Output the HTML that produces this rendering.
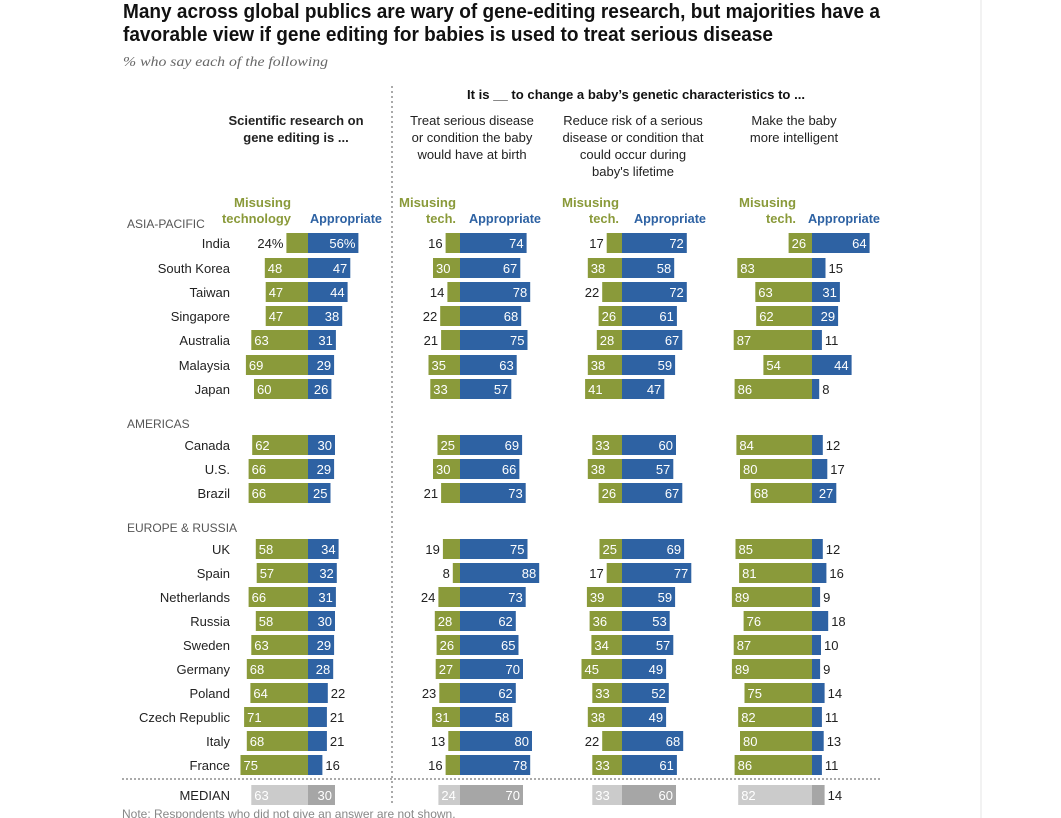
<!DOCTYPE html>
<html><head><meta charset="utf-8">
<style>
html,body{margin:0;padding:0;background:#fff;}
svg{display:block;font-family:"Liberation Sans Narrow","Liberation Sans",sans-serif;}
</style></head>
<body>
<svg id="chart" width="1061" height="818" viewBox="0 0 1061 818">
<line x1="981" y1="0" x2="981" y2="818" stroke="#e4e4e4"/>
<text x="123" y="18" font-size="20" font-weight="bold" fill="#111" textLength="757" lengthAdjust="spacingAndGlyphs">Many across global publics are wary of gene-editing research, but majorities have a</text>
<text x="123" y="41" font-size="20" font-weight="bold" fill="#111" textLength="650" lengthAdjust="spacingAndGlyphs">favorable view if gene editing for babies is used to treat serious disease</text>
<text x="123" y="66" font-size="14" font-style="italic" fill="#666" font-family="Liberation Serif,serif" textLength="205" lengthAdjust="spacingAndGlyphs">% who say each of the following</text>
<text x="636" y="99" font-size="13" font-weight="bold" fill="#111" text-anchor="middle" textLength="338" lengthAdjust="spacingAndGlyphs">It is __ to change a baby’s genetic characteristics to ...</text>
<g font-size="13" fill="#222" text-anchor="middle">
<text x="296" y="125" font-weight="bold"><tspan x="296">Scientific research on</tspan><tspan x="296" dy="17">gene editing is ...</tspan></text>
<text x="472" y="125"><tspan x="472">Treat serious disease</tspan><tspan x="472" dy="17">or condition the baby</tspan><tspan x="472" dy="17">would have at birth</tspan></text>
<text x="633" y="125"><tspan x="633">Reduce risk of a serious</tspan><tspan x="633" dy="17">disease or condition that</tspan><tspan x="633" dy="17">could occur during</tspan><tspan x="633" dy="17">baby's lifetime</tspan></text>
<text x="794" y="125"><tspan x="794">Make the baby</tspan><tspan x="794" dy="17">more intelligent</tspan></text>
</g>
<line x1="392" y1="86" x2="392" y2="806" stroke="#555" stroke-dasharray="2,3"/>
<line x1="122" y1="779" x2="880" y2="779" stroke="#555" stroke-dasharray="2,2"/>
<text x="122" y="818" font-size="12" fill="#888">Note: Respondents who did not give an answer are not shown.</text>
<g id="marks"></g>
</svg>
<script>
const countries = ["India","South Korea","Taiwan","Singapore","Australia","Malaysia","Japan","Canada","U.S.","Brazil","UK","Spain","Netherlands","Russia","Sweden","Germany","Poland","Czech Republic","Italy","France"];
const rowY = [243,268,292,316,340,365,389,445,469,493,549,573,597,621,645,669,693,717,741,765];
const misuseResearch = [24,48,47,47,63,69,60,62,66,66,58,57,66,58,63,68,64,71,68,75];
const approveResearch = [56,47,44,38,31,29,26,30,29,25,34,32,31,30,29,28,22,21,21,16];
const misuseTreat = [16,30,14,22,21,35,33,25,30,21,19,8,24,28,26,27,23,31,13,16];
const approveTreat = [74,67,78,68,75,63,57,69,66,73,75,88,73,62,65,70,62,58,80,78];
const misuseReduce = [17,38,22,26,28,38,41,33,38,26,25,17,39,36,34,45,33,38,22,33];
const approveReduce = [72,58,72,61,67,59,47,60,57,67,69,77,59,53,57,49,52,49,68,61];
const misuseSmart = [26,83,63,62,87,54,86,84,80,68,85,81,89,76,87,89,75,82,80,86];
const approveSmart = [64,15,31,29,11,44,8,12,17,27,12,16,9,18,10,9,14,11,13,11];
const medianMisuse = [63,24,33,82];
const medianApprove = [30,70,60,14];
const groups = [["ASIA-PACIFIC",223],["AMERICAS",423],["EUROPE & RUSSIA",527]];
const colCenters = [308,460,622,812];
const scale = 0.9;
const x = (c,v)=>colCenters[c]+v*scale;
const NS="http://www.w3.org/2000/svg";
const g=document.getElementById('marks');
function mk(t,a,txt){const e=document.createElementNS(NS,t);for(const k in a)e.setAttribute(k,a[k]);if(txt!==undefined)e.textContent=txt;g.appendChild(e);return e;}
groups.forEach(gr=>{
  const e=mk('text',{x:127,y:gr[1]+5,'font-size':12,fill:'#555'},gr[0]);
  
  
});
countries.forEach((c,i)=>{
  const e=mk('text',{x:230,y:rowY[i]+5,'font-size':13,fill:'#222','text-anchor':'end'},c);
  
  
});
const medLbl=mk('text',{x:230,y:800,'font-size':13,fill:'#222','text-anchor':'end'},'MEDIAN');


// legends: [misuse right edge, appropriate left, second line text, second line width]
[[291,310,"technology",69],[456,469,"tech.",30],[619,634,"tech.",30],[796,808,"tech.",30]].forEach(([mr,al,w,ww])=>{
  const a=mk('text',{x:mr,y:207,'font-size':13,'font-weight':'bold',fill:'#8a9a3a','text-anchor':'end',textLength:57,lengthAdjust:'spacingAndGlyphs'},'Misusing');
  
  
  const b=mk('text',{x:mr,y:223,'font-size':13,'font-weight':'bold',fill:'#8a9a3a','text-anchor':'end',textLength:ww,lengthAdjust:'spacingAndGlyphs'},w);
  
  
  const d=mk('text',{x:al,y:223,'font-size':13,'font-weight':'bold',fill:'#2e62a3',textLength:72,lengthAdjust:'spacingAndGlyphs'},'Appropriate');
  
  
});
const series=[[misuseResearch,approveResearch],[misuseTreat,approveTreat],[misuseReduce,approveReduce],[misuseSmart,approveSmart]];
function drawPair(c,y,m,a,gc,bc,pct,tc,med){
  const cx=colCenters[c];
  const r1=mk('rect',{x:x(c,-m),y:y-10,width:cx-x(c,-m),height:20,fill:gc});
  
  
  const r2=mk('rect',{x:cx,y:y-10,width:x(c,a)-cx,height:20,fill:bc});
  
  
  const ml=m+(pct?'%':''), al=a+(pct?'%':'');
  let t1;
  if((m>=25||med)&&!pct) t1=mk('text',{x:x(c,-m)+3,y:y+5,'font-size':13,fill:tc},ml);
  else t1=mk('text',{x:x(c,-m)-3,y:y+5,'font-size':13,fill:'#222','text-anchor':'end'},ml);
  
  
  let t2;
  if(a>=25) t2=mk('text',{x:x(c,a)-3,y:y+5,'font-size':13,fill:tc,'text-anchor':'end'},al);
  else t2=mk('text',{x:x(c,a)+3,y:y+5,'font-size':13,fill:'#222'},al);
  
  
}
series.forEach((s,c)=>{
  countries.forEach((n,i)=>drawPair(c,rowY[i],s[0][i],s[1][i],'#8a9a3a','#2e62a3',c===0&&i===0,'#fff',false));
  drawPair(c,795,medianMisuse[c],medianApprove[c],'#cbcbcb','#a6a6a6',false,'#fff',true);
});
</script>
</body></html>
